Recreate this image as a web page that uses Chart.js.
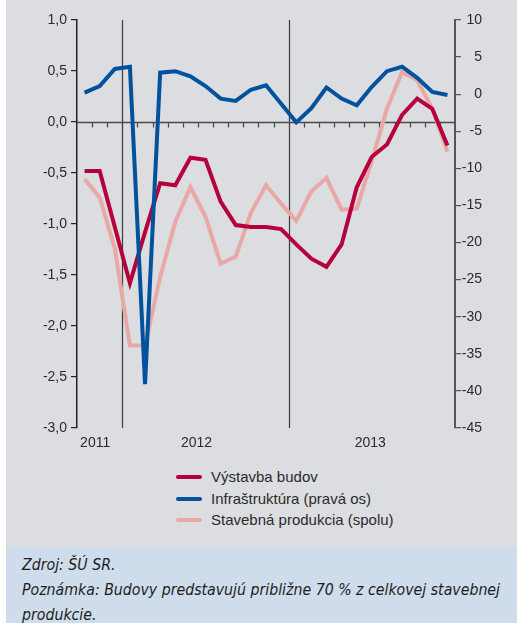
<!DOCTYPE html>
<html>
<head>
<meta charset="utf-8">
<script src="https://cdn.jsdelivr.net/npm/chart.js@4.4.1/dist/chart.umd.min.js"></script>
<style>
	body {
		margin: 0;
		width: 517px;
		height: 623px;
		overflow: hidden;
		background: #fff;
		font-family: "Liberation Sans", Arial, sans-serif;
	}
	#panel {
		position: absolute;
		left: 6px;
		top: 0;
		width: 511px;
		height: 547px;
		background: #dcdde0;
	}
	#chartBox {
		position: absolute;
		left: 0;
		top: 0;
		width: 511px;
		height: 460px;
	}
	#legend {
		position: absolute;
		left: 170px;
		top: 466px;
		font-size: 15px;
		color: #2b2b2b;
	}
	#legend .row {
		height: 21.5px;
		line-height: 21.5px;
		white-space: nowrap;
	}
	#legend .swatch {
		display: inline-block;
		width: 26px;
		height: 4px;
		border-radius: 2px;
		margin-right: 9px;
		vertical-align: middle;
		position: relative;
		top: -1px;
	}
	#note {
		position: absolute;
		left: 6px;
		top: 547px;
		width: 511px;
		height: 76px;
		background: #cfdcec;
		overflow: hidden;
	}
	#noteText {
		position: absolute;
		left: 16px;
		top: 5px;
		font-family: "DejaVu Sans Condensed", "Liberation Sans", sans-serif;
		font-style: italic;
		font-size: 16px;
		line-height: 25px;
		color: #1e1e1e;
		white-space: nowrap;
		transform-origin: 0 0;
	}
	#noteText span { display: inline-block; }
</style>
</head>
<body>
<div id="panel">
	<div id="chartBox"><canvas id="chart"></canvas></div>
	<div id="legend"></div>
</div>
<div id="note"><div id="noteText"><span>Zdroj: ŠÚ SR.</span><br><span id="longLine">Poznámka: Budovy predstavujú približne 70 % z celkovej stavebnej</span><br><span>produkcie.</span></div></div>
<script>
// mesiace 10/2011 - 10/2013
var months = ['10/11','11/11','12/11','1/12','2/12','3/12','4/12','5/12','6/12','7/12','8/12','9/12','10/12',
	'11/12','12/12','1/13','2/13','3/13','4/13','5/13','6/13','7/13','8/13','9/13','10/13'];
// lava os
var budovy = [-0.48, -0.48, -1.03, -1.58, -1.08, -0.60, -0.62, -0.35, -0.37, -0.78, -1.01, -1.03, -1.03,
	-1.05, -1.20, -1.34, -1.42, -1.20, -0.64, -0.34, -0.22, 0.07, 0.23, 0.13, -0.23];
var spolu = [-0.56, -0.74, -1.24, -2.19, -2.19, -1.52, -0.98, -0.64, -0.93, -1.39, -1.32, -0.89, -0.62,
	-0.80, -0.97, -0.68, -0.55, -0.86, -0.85, -0.38, 0.13, 0.49, 0.41, 0.13, -0.29];
// prava os
var infra = [0.2, 1.1, 3.4, 3.7, -39.1, 2.9, 3.1, 2.4, 1.1, -0.6, -0.9, 0.6, 1.2,
	-1.3, -3.8, -1.9, 0.9, -0.6, -1.5, 1.0, 3.1, 3.7, 2.2, 0.3, -0.1];
var yearLabels = ['2011', '2012', '2013'];
var yearLabelAt = [0.7, 7.4, 18.9];   // pozicia popisu v indexoch mesiacov
var yearBreakAfter = [2, 13];          // zvisle ciary medzi rokmi

var frame = {
	id: 'frame',
	beforeDatasetsDraw: function(chart) {
		var ctx = chart.ctx, a = chart.chartArea, x = chart.scales.x, y = chart.scales.y;
		var step = x.getPixelForValue(1) - x.getPixelForValue(0);
		var y0 = Math.round(y.getPixelForValue(0)) + 0.5;
		ctx.save();
		// zvisle ciary
		ctx.strokeStyle = '#3a3a3a';
		ctx.lineWidth = 1.2;
		yearBreakAfter.forEach(function(i) {
			var px = Math.round(x.getPixelForValue(i) + step / 2) + 0.5;
			ctx.beginPath();
			ctx.moveTo(px, a.top);
			ctx.lineTo(px, a.bottom);
			ctx.stroke();
		});
		// nulova ciara s mesacnymi ciarkami
		ctx.strokeStyle = '#4a4a4a';
		ctx.lineWidth = 1.5;
		ctx.beginPath();
		ctx.moveTo(a.left, y0);
		ctx.lineTo(a.right, y0);
		ctx.stroke();
		ctx.lineWidth = 1.2;
		ctx.beginPath();
		for (var i = 1; i < months.length; i++) {
			var px = Math.round(x.getPixelForValue(i) - step / 2) + 0.5;
			ctx.moveTo(px, y0);
			ctx.lineTo(px, y0 + 5);
		}
		ctx.stroke();
		ctx.restore();
	},
	afterDraw: function(chart) {
		var ctx = chart.ctx, a = chart.chartArea, x = chart.scales.x;
		ctx.save();
		ctx.fillStyle = '#2b2b2b';
		ctx.font = '14px "Liberation Sans", Arial, sans-serif';
		ctx.textAlign = 'center';
		ctx.textBaseline = 'middle';
		yearLabels.forEach(function(t, i) {
			ctx.fillText(t, x.getPixelForValue(yearLabelAt[i]), a.bottom + 15);
		});
		ctx.restore();
	}
};

var tickFont = { family: '"Liberation Sans", Arial, sans-serif', size: 14 };

var myChart = new Chart(document.getElementById('chart'), {
	type: 'line',
	data: {
		labels: months,
		datasets: [
			{ label: 'Výstavba budov', data: budovy, yAxisID: 'y', borderColor: '#b5003d', order: 1 },
			{ label: 'Infraštruktúra (pravá os)', data: infra, yAxisID: 'y1', borderColor: '#00529e', order: 0 },
			{ label: 'Stavebná produkcia (spolu)', data: spolu, yAxisID: 'y', borderColor: '#e8a8a6', order: 2 }
		]
	},
	options: {
		responsive: true,
		maintainAspectRatio: false,
		animation: false,
		layout: { padding: { left: 0, right: 35, top: 20, bottom: 32 } },
		elements: {
			point: { radius: 0 },
			line: { borderWidth: 4, tension: 0 }
		},
		plugins: {
			legend: { display: false },
			tooltip: { enabled: false }
		},
		scales: {
			x: { type: 'category', offset: true, display: false },
			y: {
				position: 'left',
				min: -3, max: 1,
				ticks: {
					stepSize: 0.5,
					padding: 4,
					color: '#2b2b2b',
					font: tickFont,
					callback: function(v) { return v.toFixed(1).replace('.', ','); }
				},
				grid: { drawOnChartArea: false, tickLength: 6, color: '#222', lineWidth: 1.2 },
				border: { color: '#222', width: 1.5 },
				afterFit: function(s) { s.width = 71; }
			},
			y1: {
				position: 'right',
				min: -45, max: 10,
				ticks: {
					stepSize: 5,
					padding: 2,
					crossAlign: 'far',
					color: '#2b2b2b',
					font: tickFont
				},
				grid: { drawOnChartArea: false, tickLength: 6, color: '#555', lineWidth: 1.2 },
				border: { color: '#555', width: 2 },
				afterFit: function(s) { s.width = 27; }
			}
		}
	},
	plugins: [frame]
});

// legenda
var legend = document.getElementById('legend');
myChart.data.datasets.forEach(function(ds) {
	var row = document.createElement('div');
	row.className = 'row';
	var sw = document.createElement('span');
	sw.className = 'swatch';
	sw.style.background = ds.borderColor;
	row.appendChild(sw);
	row.appendChild(document.createTextNode(ds.label));
	legend.appendChild(row);
});

// poznamka: zuzit na sirku ako v predlohe (dlhy riadok ~478 px)
var w = document.getElementById('longLine').getBoundingClientRect().width;
document.getElementById('noteText').style.transform = 'scaleX(' + (478 / w) + ')';
</script>
</body>
</html>
